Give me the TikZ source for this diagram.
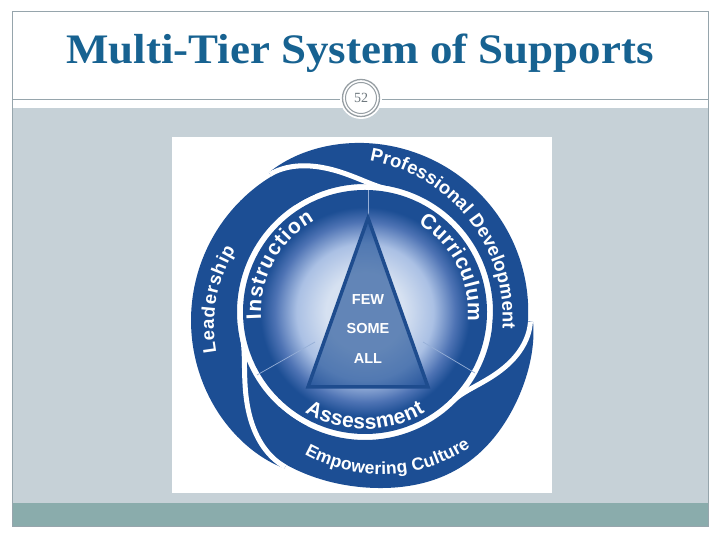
\documentclass[tikz,border=0pt]{standalone}
\usepackage{graphicx}
\usepackage{fontspec}
\setmainfont{Liberation Serif}
\newfontfamily\lsans{Liberation Sans}
\usetikzlibrary{decorations.text}
\definecolor{bladeblue}{RGB}{28,78,148}
\definecolor{titleblue}{RGB}{23,98,145}
\definecolor{slidegray}{RGB}{198,209,215}
\definecolor{slideteal}{RGB}{138,172,172}
\definecolor{framegray}{RGB}{150,165,172}
\definecolor{ringgray}{RGB}{150,158,163}
\definecolor{numgray}{RGB}{110,120,126}
\definecolor{glowA}{RGB}{214,225,241}
\definecolor{glowB}{RGB}{170,192,228}
\definecolor{glowC}{RGB}{78,115,180}
\definecolor{thinline}{RGB}{150,175,215}
\definecolor{triedge}{RGB}{30,76,142}
\pgfdeclareradialshading{discglow}{\pgfpoint{0bp}{0bp}}{color(0bp)=(glowA); color(8bp)=(glowA); color(14bp)=(glowB); color(18.5bp)=(glowC); color(21.5bp)=(bladeblue); color(50bp)=(bladeblue)}
\newcommand\infont{\lsans\bfseries\fontsize{21}{21}\selectfont}
\newcommand\outfont{\lsans\bfseries\fontsize{18.5}{18.5}\selectfont}
\newcommand\empfont{\lsans\bfseries\fontsize{17.5}{17.5}\selectfont}
% blade: #1 tip angle, #2 bump amplitude
\newcommand\bladefillat[2]{%
  \fill[bladefill] plot[domain=0:130, samples=90, smooth]
    ({362+(rout(\x)+#2*exp(-((\x-55)/28)^2))*cos(#1-\x)},{224+(rout(\x)+#2*exp(-((\x-55)/28)^2))*sin(#1-\x)})
    -- plot[domain=0:130, samples=40, smooth]
    ({365+128*cos(#1-130+\x)},{228+128*sin(#1-130+\x)}) -- cycle;}
% gap: #1 tip angle, #2 phi of previous blade at tip, #3 span
\newcommand\bladegapat[3]{%
  \draw[gapline] plot[domain=0:1, samples=60, smooth]
    ({(1-ww(\x))*(362+(rout(#2+#3*\x)+2.5)*cos(#1-#3*\x))+ww(\x)*(365+125*cos(#1-#3*\x))},
     {(1-ww(\x))*(224+(rout(#2+#3*\x)+2.5)*sin(#1-#3*\x))+ww(\x)*(228+125*sin(#1-#3*\x))});}
\begin{document}
\begin{tikzpicture}[x=1pt,y=1pt,
  declare function={rout(\x)=176-0.08*\x-5*exp(-\x/12); ww(\x)=\x*\x*(3-2*\x);},
  bladefill/.style={fill=bladeblue},
  gapline/.style={draw=white, line width=5pt, line cap=butt},
  tritext/.style={text=white, font=\lsans\bfseries\fontsize{14.5}{14.5}\selectfont, inner sep=0pt},
  divline/.style={draw=thinline, line width=0.7pt},
  curved/.style={decorate, decoration={text along path, text align={fit to path}, text color=white, text={#1}}}]
\useasboundingbox (0,0) rectangle (720,540);
\fill[white] (0,0) rectangle (720,540);
% slide
\fill[slidegray] (12,37) rectangle (708,432);
\fill[slideteal] (12,13) rectangle (708,37);
\draw[framegray, line width=1pt] (12,13) rectangle (708,528);
\draw[framegray, line width=1pt] (12,440) -- (708,440);
\fill[white] (361,442) circle (21);
\draw[ringgray, line width=1.3pt] (361,442) circle (18.5);
\draw[ringgray, line width=1pt] (361,442) circle (15.5);
\node[text=numgray, font=\fontsize{14}{14}\selectfont, inner sep=0pt] (num) at (361,442) {52};
\node[anchor=base, text=titleblue, inner sep=0pt] (title) at (360,476)
  {\scalebox{1.07}[1]{\bfseries\fontsize{42}{42}\selectfont Multi-Tier System of Supports}};
% image square
\fill[white] (172,47) rectangle (552,403);
% blades
\bladefillat{123}{0}
\bladefillat{-2}{9}
\bladefillat{-117}{0}
\bladegapat{123}{120}{44}
\bladegapat{-2}{125}{44}
\bladegapat{-117}{115}{52}
% inner disc
\shade[shading=discglow] (365,228) circle (122);
% dividing lines
\coordinate (c0) at (365,228);
\coordinate (tA) at (368,322);
\coordinate (tB) at (308,153);
\coordinate (tC) at (428,153);
\coordinate (topend) at (368,350);
\coordinate (lstart) at (315,198);
\coordinate (lend) at (257,165);
\coordinate (rstart) at (423,198);
\coordinate (rend) at (475,167);
\draw[divline] (tA) -- (topend);
\draw[divline] (lstart) -- (lend);
\draw[divline] (rstart) -- (rend);
% triangle
\fill[bladeblue, fill opacity=0.62] (tA) -- (tB) -- (tC) -- cycle;
\draw[triedge, line width=3.5pt] (tA) -- (tB) -- (tC) -- cycle;
\node[tritext] (few) at (368,240) {FEW};
\node[tritext] (some) at (368,211) {SOME};
\node[tritext] (all) at (368,181) {ALL};
% inner curved texts
\path[curved={|\infont|Instruction}] (365,228) ++(184:104) arc[start angle=184, end angle=119, radius=104];
\path[curved={|\infont|Curriculum}] (365,228) ++(59:103) arc[start angle=59, end angle=-5, radius=103];
\path[curved={|\infont|Assessment}] (365,228) ++(-121:117) arc[start angle=-121, end angle=-59, radius=117];
% outer curved texts
\path[curved={|\outfont|Professional Development}] (341.7,220.85) ++(80:161.1) arc[start angle=80, end angle=-3.5, radius=161.1];
\path[curved={|\outfont|Leadership}] (360.3,213.9) ++(190.5:146.4) arc[start angle=190.5, end angle=148.5, radius=146.4];
\path[curved={|\empfont|Empowering Culture}] (381.55,224.9) ++(-119:159.2) arc[start angle=-119, end angle=-56, radius=159.2];
\end{tikzpicture}
\end{document}
